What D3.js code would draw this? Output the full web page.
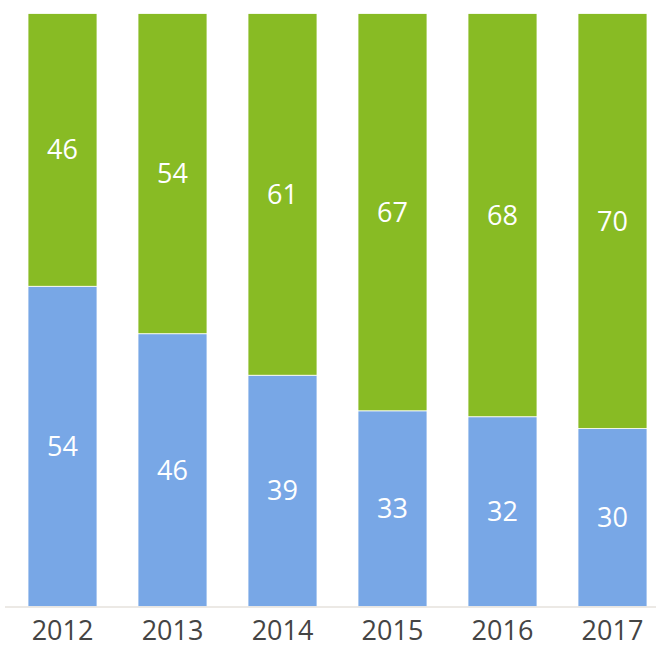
<!DOCTYPE html>
<html>
<head>
<meta charset="utf-8">
<script src="https://cdn.jsdelivr.net/npm/d3@7"></script>
<style>
html,body{margin:0;padding:0;background:#fff;}
svg{display:block;}
</style>
</head>
<body>
<svg id="chart" width="656" height="648"></svg>
<script>
const years = ["2012","2013","2014","2015","2016","2017"];
const blueValues = [54,46,39,33,32,30];
const greenValues = [46,54,61,67,68,70];
const seriesColors = {blue:"#78a7e6", green:"#88bb24"};

const svg = d3.select("#chart");
const x = d3.scaleBand().domain(years).range([7.5, 667.5]).paddingInner(0.3727).paddingOuter(0.1864);
const y = d3.scaleLinear().domain([0,100]).range([606.5, 13.5]);

const data = years.map((yr,i)=>({year:yr, blue:blueValues[i], green:greenValues[i]}));
const stack = d3.stack().keys(["blue","green"])(data);

const g = svg.append("g");
stack.forEach(layer=>{
  g.selectAll(null).data(layer).enter().append("rect")
    .attr("x", d=>x(d.data.year))
    .attr("width", x.bandwidth())
    .attr("y", d=>y(d[1]))
    .attr("height", d=>y(d[0])-y(d[1]))
    .attr("fill", seriesColors[layer.key])
    .attr("stroke","#ffffff").attr("stroke-width",0.8);
  g.selectAll(null).data(layer).enter().append("text")
    .attr("x", d=>x(d.data.year)+x.bandwidth()/2)
    .attr("y", d=>(y(d[0])+y(d[1]))/2 - 1)
    .attr("text-anchor","middle")
    .attr("dominant-baseline","central")
    .attr("fill","#ffffff")
    .style("font-family","'Open Sans', sans-serif")
    .style("font-size","27px")
    .text(d=>d.data[layer.key]);
});

// axis
const axis = svg.append("g").attr("transform","translate(0,607)")
  .call(d3.axisBottom(x).tickSize(0).tickPadding(13.5));
axis.select(".domain").attr("d","M5,0H656").attr("stroke","#d9d4cc").attr("stroke-width",1.2);
axis.selectAll("text")
  .attr("fill","#444")
  .style("font-family","'Open Sans', sans-serif")
  .style("font-size","27px");
</script>
</body>
</html>
